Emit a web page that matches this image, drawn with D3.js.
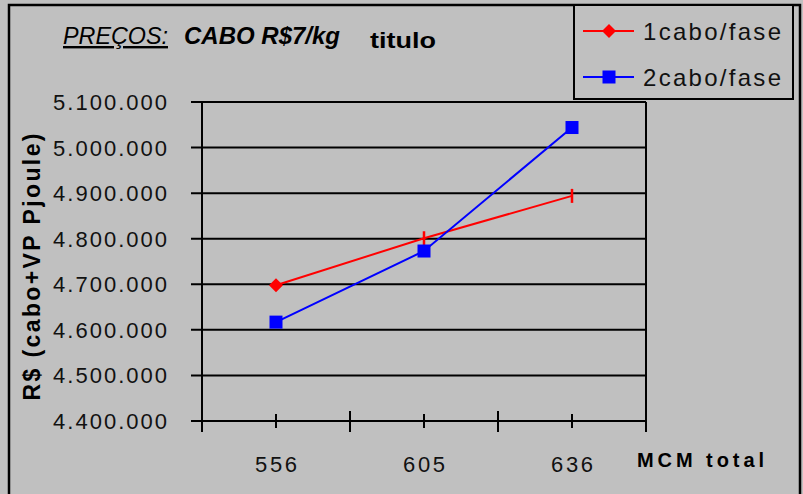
<!DOCTYPE html>
<html>
<head>
<meta charset="utf-8">
<script src="https://cdn.jsdelivr.net/npm/d3@7"></script>
<style>
  html, body { margin: 0; padding: 0; background: #c0c0c0; }
  svg { display: block; font-family: "Liberation Sans", Arial, sans-serif; }
</style>
</head>
<body>
<script>
const categories = ["556", "605", "636"];
const series1 = [4698000, 4801000, 4894000];   // 1cabo/fase
const series2 = [4617000, 4773000, 5044000];   // 2cabo/fase
const yTicks = [4400000, 4500000, 4600000, 4700000, 4800000, 4900000, 5000000, 5100000];
const seriesNames = ["1cabo/fase", "2cabo/fase"];
const seriesColors = ["#ff0000", "#0000ff"];

const W = 803, H = 494;
const svg = d3.select("body").append("svg").attr("width", W).attr("height", H);

svg.append("rect").attr("width", W).attr("height", H).attr("fill", "#c0c0c0");
// outer frame
svg.append("rect").attr("x", 9).attr("y", 5).attr("width", 791).attr("height", 500)
  .attr("fill", "none").attr("stroke", "#000").attr("stroke-width", 2.5);

const x = d3.scaleBand().domain(categories).range([202, 646]).padding(0);
const y = d3.scaleLinear().domain([4400000, 5100000]).range([421, 102]);

const fmt = d3.formatLocale({ decimal: ",", thousands: ".", grouping: [3], currency: ["", ""] }).format(",d");

// gridlines + y ticks
svg.append("g").selectAll("line").data(yTicks).enter().append("line")
  .attr("x1", 191).attr("x2", 646)
  .attr("y1", d => y(d)).attr("y2", d => y(d))
  .attr("stroke", "#000").attr("stroke-width", 2);

svg.append("g").selectAll("text").data(yTicks).enter().append("text")
  .attr("x", 167).attr("y", d => y(d) + 8)
  .attr("text-anchor", "end")
  .attr("font-size", 22)
  .attr("textLength", 114).attr("lengthAdjust", "spacing")
  .attr("fill", "#111")
  .text(d => fmt(d));

// y axis line and right border
svg.append("line").attr("x1", 202).attr("x2", 202).attr("y1", y(5100000)).attr("y2", y(4400000))
  .attr("stroke", "#000").attr("stroke-width", 2);
svg.append("line").attr("x1", 646).attr("x2", 646).attr("y1", y(5100000)).attr("y2", y(4400000))
  .attr("stroke", "#000").attr("stroke-width", 2);

// x axis ticks
const edges = categories.map(c => x(c)).concat([x.range()[1]]);
svg.append("g").selectAll("line").data(edges).enter().append("line")
  .attr("x1", d => d).attr("x2", d => d)
  .attr("y1", y(4400000) - 10).attr("y2", y(4400000) + 11)
  .attr("stroke", "#000").attr("stroke-width", 2);
svg.append("g").selectAll("line").data(categories).enter().append("line")
  .attr("x1", d => x(d) + x.bandwidth() / 2).attr("x2", d => x(d) + x.bandwidth() / 2)
  .attr("y1", y(4400000) - 7).attr("y2", y(4400000) + 7)
  .attr("stroke", "#000").attr("stroke-width", 2);

svg.append("g").selectAll("text").data(categories).enter().append("text")
  .attr("x", d => x(d) + x.bandwidth() / 2).attr("y", 472)
  .attr("text-anchor", "middle").attr("font-size", 22)
  .attr("textLength", 42).attr("lengthAdjust", "spacing")
  .attr("fill", "#111")
  .text(d => d);

svg.append("text").attr("x", 637).attr("y", 467)
  .attr("font-size", 20).attr("font-weight", "bold")
  .attr("textLength", 127).attr("lengthAdjust", "spacing")
  .text("MCM total");

svg.append("text")
  .attr("transform", "translate(40,267) rotate(-90)")
  .attr("text-anchor", "middle")
  .attr("font-size", 23).attr("font-weight", "bold")
  .attr("textLength", 267).attr("lengthAdjust", "spacing")
  .text("R$ (cabo+VP Pjoule)");

// title
svg.append("text").attr("x", 63).attr("y", 44)
  .attr("font-size", 24).attr("font-style", "italic").attr("text-decoration", "underline")
  .attr("textLength", 105).attr("lengthAdjust", "spacingAndGlyphs")
  .text("PREÇOS:");
svg.append("text").attr("x", 184).attr("y", 44)
  .attr("font-size", 24).attr("font-style", "italic").attr("font-weight", "bold")
  .attr("textLength", 156).attr("lengthAdjust", "spacingAndGlyphs")
  .text("CABO R$7/kg");
svg.append("text").attr("x", 370).attr("y", 48)
  .attr("font-size", 22).attr("font-weight", "bold")
  .attr("textLength", 66).attr("lengthAdjust", "spacingAndGlyphs")
  .text("titulo");

// series
const line = d3.line().x((d, i) => x(categories[i]) + x.bandwidth() / 2).y(d => y(d));
[series1, series2].forEach((s, k) => {
  svg.append("path").attr("d", line(s)).attr("fill", "none")
    .attr("stroke", seriesColors[k]).attr("stroke-width", 2);
});

const diamond = (cx, cy, r) => `M${cx},${cy - r}L${cx + r},${cy}L${cx},${cy + r}L${cx - r},${cy}Z`;

svg.append("g").selectAll("path").data(series1).enter().append("path")
  .attr("d", (d, i) => {
    const cx = x(categories[i]) + x.bandwidth() / 2, cy = y(d);
    return i === 0 ? diamond(cx, cy, 7) : `M${cx},${cy - 7}L${cx},${cy + 7}`;
  })
  .attr("fill", seriesColors[0]).attr("stroke", seriesColors[0])
  .attr("stroke-width", (d, i) => i === 0 ? 0 : 2.5);

svg.append("g").selectAll("rect").data(series2).enter().append("rect")
  .attr("x", (d, i) => x(categories[i]) + x.bandwidth() / 2 - 6.5)
  .attr("y", d => y(d) - 6.5)
  .attr("width", 13).attr("height", 13)
  .attr("fill", seriesColors[1]);

// legend
svg.append("rect").attr("x", 574).attr("y", 5).attr("width", 219).attr("height", 94)
  .attr("fill", "#c0c0c0").attr("stroke", "#000").attr("stroke-width", 2);
const legendY = [31, 77];
seriesNames.forEach((name, k) => {
  const ly = legendY[k];
  svg.append("line").attr("x1", 583).attr("x2", 634).attr("y1", ly).attr("y2", ly)
    .attr("stroke", seriesColors[k]).attr("stroke-width", 2);
  if (k === 0) {
    svg.append("path").attr("d", diamond(609, ly, 7)).attr("fill", seriesColors[k]);
  } else {
    svg.append("rect").attr("x", 602.5).attr("y", ly - 6.5).attr("width", 13).attr("height", 13)
      .attr("fill", seriesColors[k]);
  }
  svg.append("text").attr("x", 643).attr("y", ly + 9)
    .attr("font-size", 24)
    .attr("textLength", 138).attr("lengthAdjust", "spacing")
    .attr("fill", "#111")
    .text(name);
});
</script>
</body>
</html>
